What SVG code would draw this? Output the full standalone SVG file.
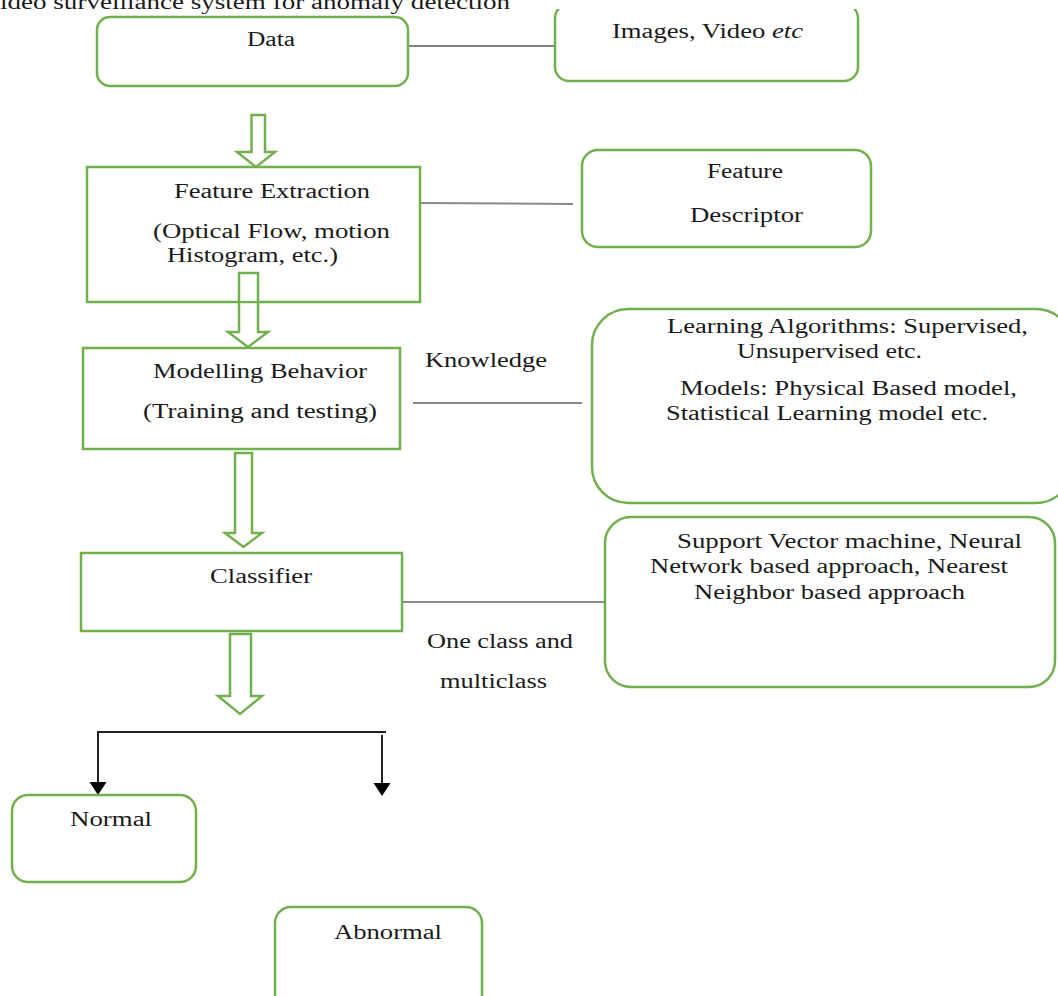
<svg xmlns="http://www.w3.org/2000/svg" width="1058" height="996" viewBox="0 0 1058 996">
<style>
  text { font-family: "Liberation Serif", "Times New Roman", serif; font-size: 20px; fill: #1a1a1a; }
  .box { fill: #ffffff; stroke: #72b04d; stroke-width: 2.5; }
  .harrow { fill: #ffffff; stroke: #72b04d; stroke-width: 2.5; stroke-linejoin: miter; }
  .link { stroke: #8a8a8a; stroke-width: 2; fill: none; }
  .linkdark { stroke: #555555; stroke-width: 1.5; fill: none; }
  .fork { stroke: #222222; stroke-width: 2; fill: none; }
</style>
<defs>
  <clipPath id="clipTop"><rect x="0" y="9" width="1058" height="987"/></clipPath>
</defs>

<rect x="0" y="0" width="1058" height="996" fill="#ffffff"/>

<text id="title" x="0" y="9" textLength="510" lengthAdjust="spacingAndGlyphs">ideo  surveillance  system  for  anomaly  detection</text>

<g id="connectors">
  <line class="linkdark" x1="408" y1="46" x2="555" y2="46"/>
  <line class="link" x1="421" y1="203" x2="573" y2="204"/>
  <line class="link" x1="413" y1="403" x2="582" y2="403"/>
  <line class="link" x1="402" y1="602" x2="605" y2="602"/>
  <polygon class="harrow" points="251.5,115 265,115 265,152 275,152 256,167 237,152 251.5,152"/>
  <polygon class="harrow" points="239,273 258,273 258,332 268,332 248,347 228,332 239,332"/>
  <polygon class="harrow" points="235,453 252,453 252,533 262,533 243.5,547 225,533 235,533"/>
  <polygon class="harrow" points="230,634 251,634 251,696 262,696 240,714 218,696 230,696"/>
  <polyline class="fork" points="98,783 98,732 386,732"/>
  <line class="fork" x1="382" y1="735" x2="382" y2="784"/>
  <path d="M89.5,782 L106.5,782 L98,795 z" fill="#000"/>
  <path d="M373.5,783 L390.5,783 L382,796 z" fill="#000"/>
</g>

<g id="node-data">
  <rect class="box" x="97" y="17" width="311" height="69" rx="13"/>
  <text x="247" y="46" textLength="48" lengthAdjust="spacingAndGlyphs">Data</text>
</g>

<g id="node-images">
  <rect class="box" x="555" y="4" width="303" height="77" rx="14" clip-path="url(#clipTop)"/>
  <text x="612" y="38" textLength="191" lengthAdjust="spacingAndGlyphs">Images, Video <tspan font-style="italic">etc</tspan></text>
</g>

<g id="node-feature-extraction">
  <rect class="box" x="87" y="167" width="333" height="135"/>
  <text x="174" y="198" textLength="196" lengthAdjust="spacingAndGlyphs">Feature Extraction</text>
  <text x="153" y="238" textLength="237" lengthAdjust="spacingAndGlyphs">(Optical Flow, motion</text>
  <text x="167" y="262" textLength="171" lengthAdjust="spacingAndGlyphs">Histogram, etc.)</text>
  <rect x="240" y="274" width="17" height="27" fill="#ffffff"/>
  <polyline points="239,301 239,273 258,273 258,301" fill="none" stroke="#72b04d" stroke-width="2.5"/>
</g>

<g id="node-feature-descriptor">
  <rect class="box" x="582" y="150" width="289" height="97" rx="16"/>
  <text x="707" y="178" textLength="76" lengthAdjust="spacingAndGlyphs">Feature</text>
  <text x="690" y="222" textLength="113" lengthAdjust="spacingAndGlyphs">Descriptor</text>
</g>

<g id="node-modelling">
  <rect class="box" x="83" y="348" width="317" height="101"/>
  <text x="153" y="378" textLength="214" lengthAdjust="spacingAndGlyphs">Modelling Behavior</text>
  <text x="143" y="418" textLength="234" lengthAdjust="spacingAndGlyphs">(Training and testing)</text>
</g>

<g id="label-knowledge">
  <text x="425" y="367" textLength="122" lengthAdjust="spacingAndGlyphs">Knowledge</text>
</g>

<g id="node-learning">
  <rect class="box" x="592" y="309" width="480" height="194" rx="36"/>
  <text x="667" y="333" textLength="361" lengthAdjust="spacingAndGlyphs">Learning Algorithms: Supervised,</text>
  <text x="737" y="358" textLength="185" lengthAdjust="spacingAndGlyphs">Unsupervised etc.</text>
  <text x="680" y="395" textLength="337" lengthAdjust="spacingAndGlyphs">Models: Physical Based model,</text>
  <text x="666" y="420" textLength="322" lengthAdjust="spacingAndGlyphs">Statistical Learning model etc.</text>
</g>

<g id="node-classifier">
  <rect class="box" x="81" y="553" width="321" height="78"/>
  <text x="210" y="583" textLength="102" lengthAdjust="spacingAndGlyphs">Classifier</text>
</g>

<g id="node-svm">
  <rect class="box" x="605" y="517" width="450" height="170" rx="26"/>
  <text x="677" y="548" textLength="345" lengthAdjust="spacingAndGlyphs">Support Vector machine, Neural</text>
  <text x="650" y="573" textLength="358" lengthAdjust="spacingAndGlyphs">Network based approach, Nearest</text>
  <text x="694" y="599" textLength="271" lengthAdjust="spacingAndGlyphs">Neighbor based approach</text>
</g>

<g id="label-oneclass">
  <text x="427" y="648" textLength="146" lengthAdjust="spacingAndGlyphs">One class and</text>
  <text x="440" y="688" textLength="107" lengthAdjust="spacingAndGlyphs">multiclass</text>
</g>

<g id="node-normal">
  <rect class="box" x="12" y="795" width="184" height="87" rx="16"/>
  <text x="70" y="826" textLength="82" lengthAdjust="spacingAndGlyphs">Normal</text>
</g>

<g id="node-abnormal">
  <rect class="box" x="275" y="907" width="207" height="110" rx="16"/>
  <text x="334" y="939" textLength="108" lengthAdjust="spacingAndGlyphs">Abnormal</text>
</g>
</svg>
